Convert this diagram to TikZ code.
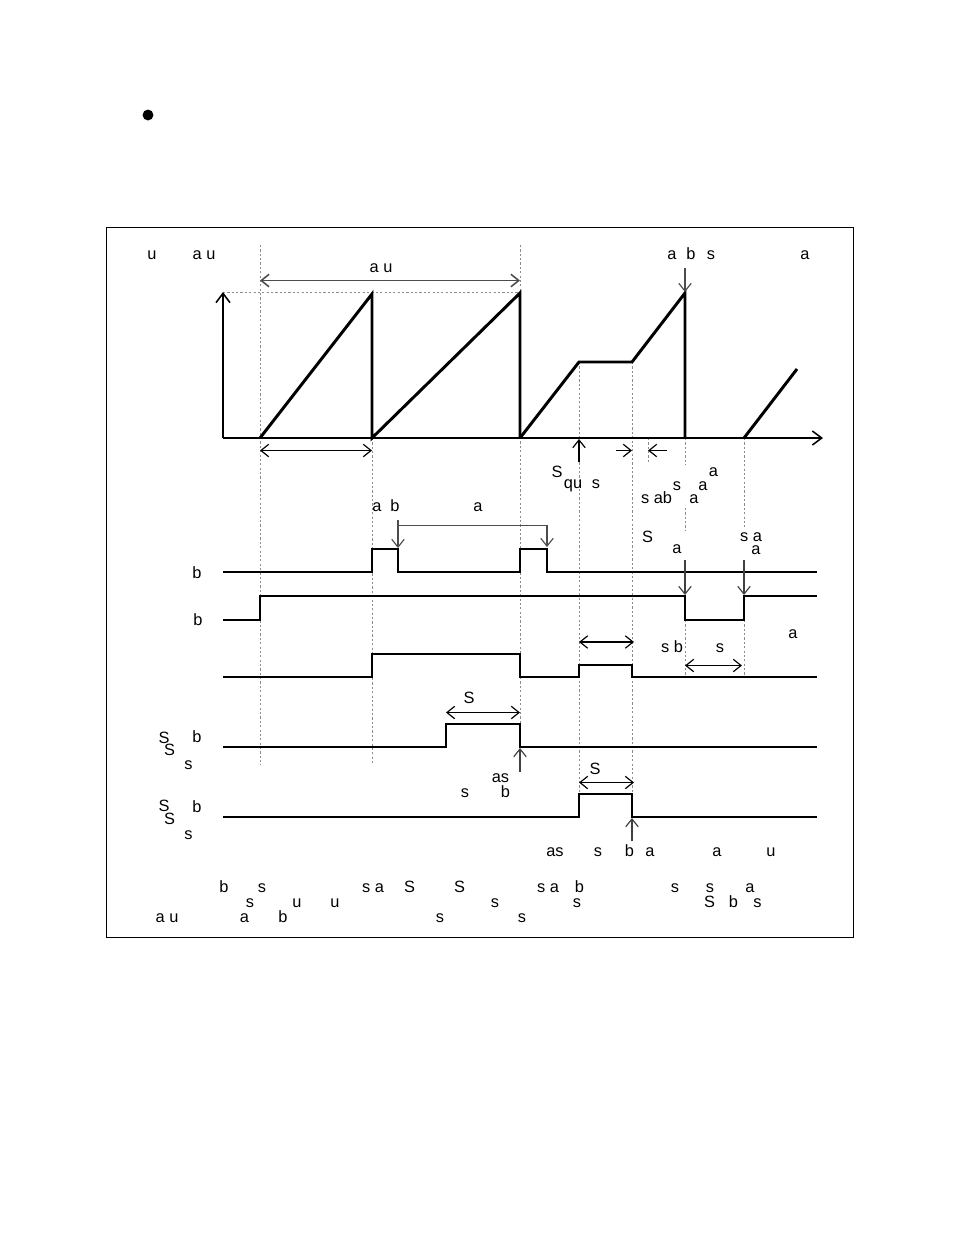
\documentclass[tikz,border=0pt]{standalone}
\usepackage{fontspec}
\setmainfont{Liberation Sans}
\usetikzlibrary{arrows.meta}
\begin{document}
\begin{tikzpicture}[x=0.6415pt,y=-0.6415pt,
 sig/.style={line width=1.9pt, line join=miter, line cap=butt},
 guide/.style={black!45, line width=0.45pt, dash pattern=on 1.4pt off 1.4pt},
 dimarr/.style={line width=0.75pt, {Straight Barb[length=5pt,width=8pt]}-{Straight Barb[length=5pt,width=8pt]}},
 ptr/.style={line width=0.75pt, -{Straight Barb[length=5pt,width=8pt]}},
 lbl/.style={inner sep=0pt, font=\fontsize{10.5}{12}\selectfont, anchor=base}]
\useasboundingbox (0,0) rectangle (954,1235);
% bullet and frame
\node[circle, fill, inner sep=0pt, minimum size=7pt] (bul) at (148,115) {};
\draw[line width=1pt] (106.5,227.5) rectangle (853.5,937.5);

% guide lines
\draw[guide] (223,292.5) -- (520,292.5);
\draw[guide] (260,245) -- (260,765);
\draw[guide] (372,438) -- (372,765);
\draw[guide] (520,245) -- (520,747);
\draw[guide] (579,362) -- (579,794);
\draw[guide] (632,362) -- (632,817);
\draw[guide] (648,438) -- (648,462);
\draw[guide] (685,438) -- (685,465);
\draw[guide] (685,508) -- (685,530);
\draw[guide] (685,620) -- (685,677);
\draw[guide] (744,438) -- (744,527);
\draw[guide] (744,620) -- (744,677);

% axes
\coordinate (o) at (223,438);
\coordinate (ytop) at (223,292);
\coordinate (xend) at (823,438);
\draw[line width=1.9pt, -{Straight Barb[length=6pt,width=9pt,line width=1pt]}] (o) -- (ytop);
\draw[line width=1.9pt, -{Straight Barb[length=6pt,width=9pt,line width=1pt]}] (o) -- (xend);

% sawtooth
\draw[sig] (260,438) -- (372,294) -- (372,438) -- (520,293) -- (520,438);
\draw[sig] (520,438) -- (579,362) -- (632,362) -- (685,293) -- (685,438);
\draw[sig] (744,438) -- (797,369);

% signals
\draw[sig] (223,572) -- (372,572) -- (372,549) -- (398,549) -- (398,572) -- (520,572) -- (520,549) -- (547,549) -- (547,572) -- (817,572);
\draw[sig] (223,620) -- (260,620) -- (260,596) -- (685,596) -- (685,620) -- (744,620) -- (744,596) -- (817,596);
\draw[sig] (223,677) -- (372,677) -- (372,654) -- (520,654) -- (520,677) -- (579,677) -- (579,665) -- (632,665) -- (632,677) -- (817,677);
\draw[sig] (223,747) -- (446,747) -- (446,724) -- (520,724) -- (520,747) -- (817,747);
\draw[sig] (223,817) -- (579,817) -- (579,794) -- (632,794) -- (632,817) -- (817,817);

% dimension arrows
\coordinate (d1a) at (260,280.5); \coordinate (d1b) at (520,280.5);
\draw[dimarr, black!70, line width=1pt] (d1a) -- (d1b);
\coordinate (d2a) at (260,450.5); \coordinate (d2b) at (372,450.5);
\draw[dimarr] (d2a) -- (d2b);
\coordinate (d3a) at (579,642); \coordinate (d3b) at (634,642);
\draw[dimarr] (d3a) -- (d3b);
\coordinate (d4a) at (685,665.5); \coordinate (d4b) at (742,665.5);
\draw[dimarr] (d4a) -- (d4b);
\coordinate (d5a) at (446,712.5); \coordinate (d5b) at (520,712.5);
\draw[dimarr] (d5a) -- (d5b);
\coordinate (d6a) at (579,782.5); \coordinate (d6b) at (634,782.5);
\draw[dimarr] (d6a) -- (d6b);

% pointers
\coordinate (p1a) at (685,268); \coordinate (p1b) at (685,292);
\draw[ptr, black!70] (p1a) -- (p1b);
\coordinate (p2a) at (579,462); \coordinate (p2b) at (579,439);
\draw[ptr] (p2a) -- (p2b);
\coordinate (p3a) at (616,450.5); \coordinate (p3b) at (632,450.5);
\draw[ptr] (p3a) -- (p3b);
\coordinate (p4a) at (667,450.5); \coordinate (p4b) at (648,450.5);
\draw[ptr] (p4a) -- (p4b);
\coordinate (p5a) at (398,520); \coordinate (p5m) at (547,525.7); \coordinate (p5b) at (547,547);
\draw[ptr, black!70] (p5a) -- (398,548);
\draw[ptr, black!70] (398,525.7) -- (p5m) -- (p5b);
\coordinate (p6a) at (685,560); \coordinate (p6b) at (685,595);
\draw[ptr, black!75] (p6a) -- (p6b);
\coordinate (p7a) at (744,560); \coordinate (p7b) at (744,595);
\draw[ptr, black!75] (p7a) -- (p7b);
\coordinate (p8a) at (520,772); \coordinate (p8b) at (520,748);
\draw[ptr, black!75] (p8a) -- (p8b);
\coordinate (p9a) at (632,841); \coordinate (p9b) at (632,818);
\draw[ptr, black!75] (p9a) -- (p9b);

% labels - top
\node[lbl] (t1) at (152,259) {u};
\node[lbl] (t2) at (204,259) {a u};
\node[lbl] (t3) at (381,272) {a u};
\node[lbl] (t4) at (672,259) {a};
\node[lbl] (t5) at (691,259) {b};
\node[lbl] (t6) at (711,259) {s};
\node[lbl] (t7) at (805,259) {a};
% labels below sawtooth
\node[lbl] (t8) at (557,477.5) {S};
\node[lbl] (t9) at (573,488) {qu};
\node[lbl] (t10) at (596,488) {s};
\node[lbl] (t11) at (713.5,476) {a};
\node[lbl] (t12) at (677,490) {s};
\node[lbl] (t13) at (703,490) {a};
\node[lbl] (t14) at (656.5,503) {s ab};
\node[lbl] (t15) at (694,503) {a};
\node[lbl] (t16) at (377,511) {a};
\node[lbl] (t17) at (395,511) {b};
\node[lbl] (t18) at (478,511) {a};
\node[lbl] (t19) at (647.5,542.5) {S};
\node[lbl] (t20) at (677,553.5) {a};
\node[lbl] (t21) at (751,541) {s a};
\node[lbl] (t22) at (756,554) {a};
% left labels
\node[lbl] (t23) at (197,578) {b};
\node[lbl] (t24) at (198,625) {b};
\node[lbl] (t25) at (793,638) {a};
\node[lbl] (t26) at (672,652.5) {s b};
\node[lbl] (t27) at (720,652.5) {s};
\node[lbl] (t28) at (469,703.5) {S};
\node[lbl] (t29) at (164,743) {S};
\node[lbl] (t30) at (169.5,755) {S};
\node[lbl] (t31) at (197,742) {b};
\node[lbl] (t32) at (188.5,769) {s};
\node[lbl] (t33) at (500.5,782.5) {as};
\node[lbl] (t34) at (505.5,797.5) {b};
\node[lbl] (t35) at (465,797) {s};
\node[lbl] (t36) at (595,774) {S};
\node[lbl] (t37) at (164,811) {S};
\node[lbl] (t38) at (169.5,824) {S};
\node[lbl] (t39) at (197,812) {b};
\node[lbl] (t40) at (188.5,839.5) {s};
% bottom rows
\node[lbl] (b1) at (555,856) {as};
\node[lbl] (b2) at (598,856) {s};
\node[lbl] (b3) at (629.5,856) {b};
\node[lbl] (b4) at (650,856) {a};
\node[lbl] (b5) at (717,856) {a};
\node[lbl] (b6) at (771,856) {u};
\node[lbl] (c1) at (224,892) {b};
\node[lbl] (c2) at (262,892) {s};
\node[lbl] (c3) at (373,892) {s a};
\node[lbl] (c4) at (409.5,892) {S};
\node[lbl] (c5) at (459.5,892) {S};
\node[lbl] (c6) at (548,892) {s a};
\node[lbl] (c7) at (579.5,892) {b};
\node[lbl] (c8) at (675,892) {s};
\node[lbl] (c9) at (710,892) {s};
\node[lbl] (c10) at (750,892) {a};
\node[lbl] (e1) at (250,907) {s};
\node[lbl] (e2) at (297,907) {u};
\node[lbl] (e3) at (335,907) {u};
\node[lbl] (e4) at (495,907) {s};
\node[lbl] (e5) at (577,907) {s};
\node[lbl] (e6) at (709.5,907) {S};
\node[lbl] (e7) at (733.5,907) {b};
\node[lbl] (e8) at (757.5,907) {s};
\node[lbl] (f1) at (167,922.5) {a u};
\node[lbl] (f2) at (244.5,922.5) {a};
\node[lbl] (f3) at (283,922.5) {b};
\node[lbl] (f4) at (440,922.5) {s};
\node[lbl] (f5) at (522,922.5) {s};
\end{tikzpicture}
\end{document}
